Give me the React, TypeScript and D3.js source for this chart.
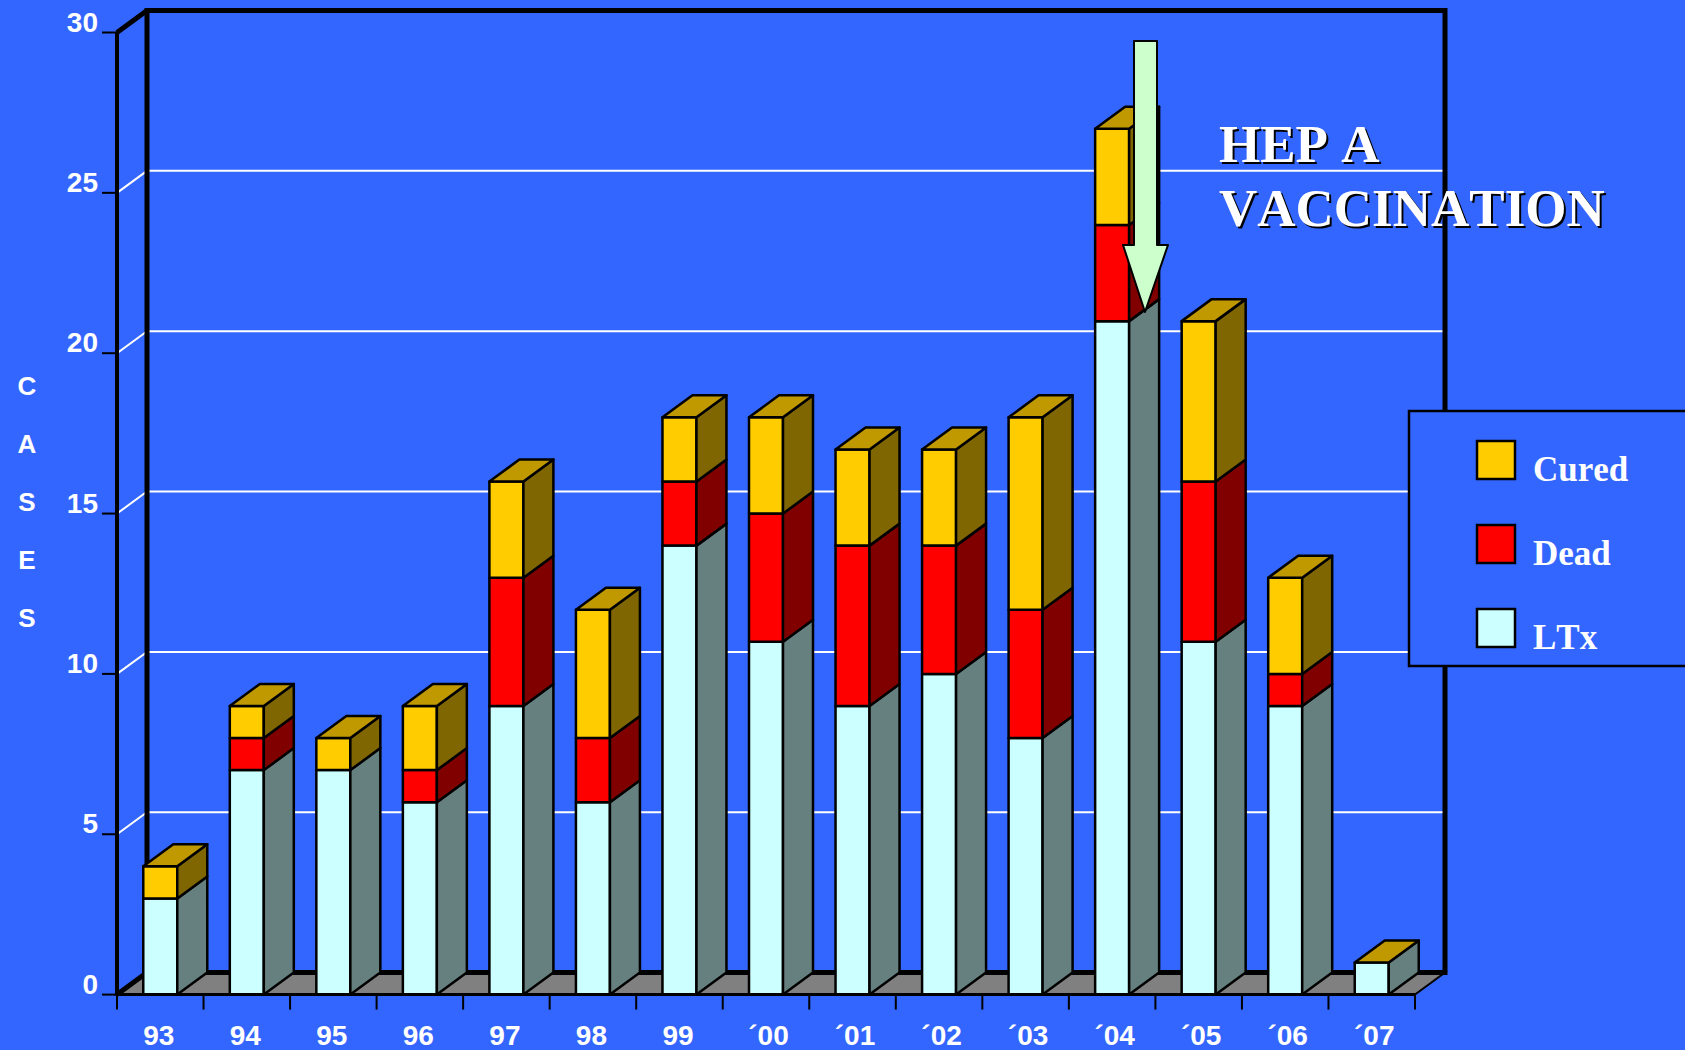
import React, { useEffect, useRef } from 'react';
import * as d3 from 'd3';

const years = ['93', '94', '95', '96', '97', '98', '99', '´00', '´01', '´02', '´03', '´04', '´05', '´06', '´07'];
const ltx = [3, 7, 7, 6, 9, 6, 14, 11, 9, 10, 8, 21, 11, 9, 1];
const dead = [0, 1, 0, 1, 4, 2, 2, 4, 5, 4, 4, 3, 5, 1, 0];
const cured = [1, 1, 1, 2, 3, 4, 2, 3, 3, 3, 6, 3, 5, 3, 0];
const yTicks = [0, 5, 10, 15, 20, 25, 30];
const yTitle = ['C', 'A', 'S', 'E', 'S'];
const legendItems = ['Cured', 'Dead', 'LTx'];

const BG = '#3366ff';
const front = { ltx: '#ccffff', dead: '#ff0000', cured: '#ffcc00' };
const side = { ltx: '#668080', dead: '#800000', cured: '#806600' };
const topColor = '#c09900';

export default function App() {
  const ref = useRef<SVGSVGElement>(null);

  useEffect(() => {
    const svg = d3.select(ref.current);
    svg.selectAll('*').remove();
    const width = 1685;
    const height = 1050;
    svg.attr('viewBox', `0 0 ${width} ${height}`);

    const x = d3.scaleBand().domain(years).range([117, 1415]);
    const y = d3.scaleLinear().domain([0, 30]).range([994.6, 32.5]);
    const depthX = 30;
    const depthY = 22;
    const barW = 34;
    const line = d3.line();

    svg.append('rect').attr('width', width).attr('height', height).attr('fill', BG);

    // gridlines on the side and back wall
    const grid = svg.append('g').attr('stroke', '#fff').attr('stroke-width', 2).attr('fill', 'none');
    yTicks.slice(1, -1).forEach((t) => {
      grid
        .append('path')
        .attr('d', line([
          [x.range()[0], y(t)],
          [x.range()[0] + depthX, y(t) - depthY],
          [x.range()[1] + depthX, y(t) - depthY],
        ]));
    });

    // floor
    svg
      .append('path')
      .attr('d', line([
        [117, y(0)],
        [117 + depthX, y(0) - depthY],
        [1415 + depthX, y(0) - depthY],
        [1415, y(0)],
      ]) + 'Z')
      .attr('fill', '#808080')
      .attr('stroke', '#000')
      .attr('stroke-width', 2);

    // back wall frame
    svg
      .append('path')
      .attr('d', line([
        [117, y(0)],
        [117 + depthX, y(0) - depthY],
        [1415 + depthX, y(0) - depthY],
        [1415 + depthX, y(30) - depthY],
        [117 + depthX, y(30) - depthY],
        [117 + depthX, y(0) - depthY],
      ]))
      .attr('fill', 'none')
      .attr('stroke', '#000')
      .attr('stroke-width', 5);
    svg
      .append('path')
      .attr('d', line([
        [117, y(30)],
        [117 + depthX, y(30) - depthY],
      ]))
      .attr('stroke', '#000')
      .attr('stroke-width', 5);

    // stacked bars
    const rows = years.map((year, i) => ({ year, ltx: ltx[i], dead: dead[i], cured: cured[i] }));
    const stack = d3.stack().keys(['ltx', 'dead', 'cured'])(rows as any);
    const bars = svg.append('g').attr('stroke', '#000').attr('stroke-width', 2.5).attr('stroke-linejoin', 'round');
    rows.forEach((row, i) => {
      const x0 = x(row.year)! + (x.bandwidth() - barW) / 2;
      const x1 = x0 + barW;
      stack.forEach((layer) => {
        const [v0, v1] = layer[i];
        if (v1 === v0) return;
        bars
          .append('rect')
          .attr('x', x0)
          .attr('y', y(v1))
          .attr('width', barW)
          .attr('height', y(v0) - y(v1))
          .attr('fill', front[layer.key]);
        bars
          .append('path')
          .attr('d', line([
            [x1, y(v0)],
            [x1 + depthX, y(v0) - depthY],
            [x1 + depthX, y(v1) - depthY],
            [x1, y(v1)],
          ]) + 'Z')
          .attr('fill', side[layer.key]);
      });
      const total = stack[2][i][1];
      bars
        .append('path')
        .attr('d', line([
          [x0, y(total)],
          [x0 + depthX, y(total) - depthY],
          [x1 + depthX, y(total) - depthY],
          [x1, y(total)],
        ]) + 'Z')
        .attr('fill', topColor);
    });

    // axes
    const yAxis = d3.axisLeft(y).tickValues(yTicks).tickSize(15).tickSizeOuter(0).tickPadding(4).offset(0);
    const gy = svg.append('g').attr('transform', 'translate(117,0)').call(yAxis);
    gy.select('.domain').attr('stroke', '#000').attr('stroke-width', 4);
    gy.selectAll('.tick line').attr('stroke', '#000').attr('stroke-width', 2);
    gy.selectAll('.tick text')
      .attr('fill', '#fff')
      .attr('dy', '-1')
      .style('font', 'bold 28px "Liberation Sans"');

    const xAxis = d3.axisBottom(x).tickSize(0).tickPadding(0).offset(0);
    const gx = svg.append('g').attr('transform', `translate(0,${y(0)})`).call(xAxis);
    gx.select('.domain').attr('stroke', '#000').attr('stroke-width', 3);
    gx.selectAll('.tick text')
      .attr('fill', '#fff')
      .attr('y', 50)
      .attr('dy', 0)
      .attr('dx', (d) => (String(d).startsWith('´') ? 2.5 : -1.5))
      .style('font', 'bold 28px "Liberation Sans"');
    gx.selectAll('.edge')
      .data([...years.map((d) => x(d)!), x.range()[1]])
      .join('line')
      .attr('x1', (d) => d)
      .attr('x2', (d) => d)
      .attr('y1', 0)
      .attr('y2', 15)
      .attr('stroke', '#000')
      .attr('stroke-width', 2);

    // vertical axis title
    svg
      .append('g')
      .selectAll('text')
      .data(yTitle)
      .join('text')
      .attr('x', 27)
      .attr('y', (d, i) => 395 + i * 58)
      .attr('text-anchor', 'middle')
      .attr('fill', '#fff')
      .style('font', 'bold 26px "Liberation Sans"')
      .text((d) => d);

    // arrow
    svg
      .append('path')
      .attr('d', line([
        [1134, 41],
        [1157, 41],
        [1157, 245],
        [1168, 245],
        [1145, 312],
        [1123, 245],
        [1134, 245],
      ]) + 'Z')
      .attr('fill', '#ccffcc')
      .attr('stroke', '#000')
      .attr('stroke-width', 2)
      .attr('stroke-linejoin', 'round');

    // annotation
    [['HEP A', 162], ['VACCINATION', 226]].forEach(([label, base]) => {
      [['#000', 2], ['#fff', 0]].forEach(([fill, off]) => {
        svg
          .append('text')
          .attr('x', 1219 + (off as number))
          .attr('y', (base as number) + (off as number))
          .attr('fill', fill as string)
          .style('font', 'bold 53px "Liberation Serif"')
          .style('font-kerning', 'none')
          .text(label as string);
      });
    });

    // legend
    svg
      .append('rect')
      .attr('x', 1409)
      .attr('y', 411)
      .attr('width', 290)
      .attr('height', 255)
      .attr('fill', BG)
      .attr('stroke', '#000')
      .attr('stroke-width', 2.5);
    const legendColors = [front.cured, front.dead, front.ltx];
    legendItems.forEach((label, i) => {
      svg
        .append('rect')
        .attr('x', 1477)
        .attr('y', 441 + i * 84)
        .attr('width', 38)
        .attr('height', 38)
        .attr('fill', legendColors[i])
        .attr('stroke', '#000')
        .attr('stroke-width', 2.5);
      svg
        .append('text')
        .attr('x', 1533)
        .attr('y', 481 + i * 84)
        .attr('fill', '#fff')
        .style('font', 'bold 35px "Liberation Serif"')
        .style('font-kerning', 'none')
        .text(label);
    });
  }, []);

  return <svg ref={ref} width={1685} height={1050} style={{ position: 'absolute', left: 0, top: 0, display: 'block' }}></svg>;
}
